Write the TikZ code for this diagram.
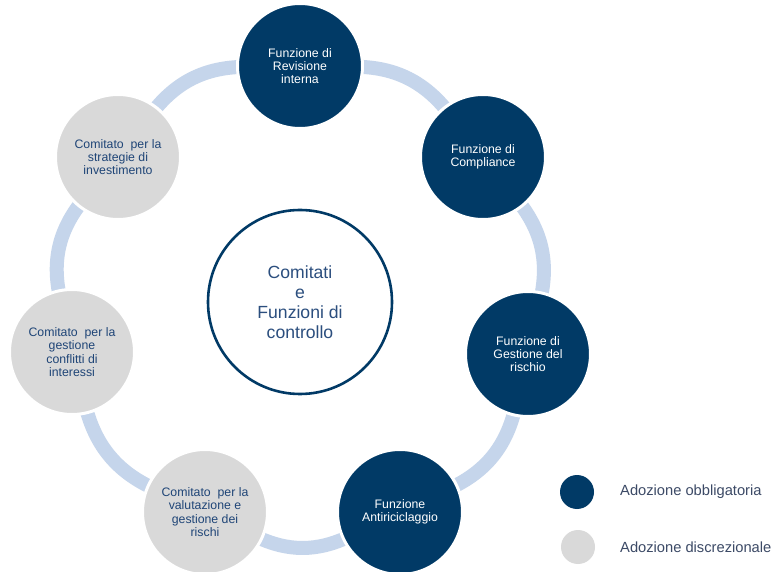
\documentclass[tikz,border=0pt]{standalone}
\usepackage{fontspec}
\setmainfont{Liberation Sans}
\pgfdeclarelayer{background}
\pgfsetlayers{background,main}
\definecolor{dblue}{HTML}{013A66}
\definecolor{lgray}{HTML}{D9D9D9}
\definecolor{ringc}{HTML}{C5D5EB}
\definecolor{gtext}{HTML}{1F4577}
\definecolor{ctext}{HTML}{2B4E7E}
\definecolor{legtext}{HTML}{3C4A66}
\begin{document}
\begin{tikzpicture}[x=1pt,y=1pt,
  fn/.style={circle, fill=dblue, draw=white, line width=3pt, minimum size=125pt,
    inner sep=0pt, text=white, align=center, font=\fontsize{12.3}{13.3}\selectfont},
  comnode/.style={fn, fill=lgray, text=gtext},
  hub/.style={circle, fill=white, draw=dblue, line width=2.6pt, minimum size=184pt,
    inner sep=0pt, text=ctext, align=center, font=\fontsize{17.6}{20}\selectfont},
  ringarc/.style={draw=ringc, line width=14pt, bend left=25.7, looseness=0.9,
    shorten <=-8pt, shorten >=-8pt},
  legdot/.style={circle, minimum size=34pt, inner sep=0pt},
  legtxt/.style={anchor=west, text=legtext, inner sep=0pt, font=\fontsize{14.7}{16}\selectfont}]
\useasboundingbox (0,0) rectangle (772,-572);
\node[hub] (hub) at (300,-302) {Comitati\\e\\Funzioni di\\controllo};
\node[fn] (rev)   at (300,-66)  {Funzione di\\Revisione\\interna};
\node[fn] (comp)  at (483,-157) {Funzione di\\Compliance};
\node[fn] (gest)  at (528,-354) {Funzione di\\Gestione del\\rischio};
\node[fn] (anti)  at (400,-512) {Funzione\\Antiriciclaggio};
\node[comnode] (valu)  at (205,-512) {Comitato\ \ per la\\valutazione e\\gestione dei\\rischi};
\node[comnode] (conf)  at (72,-352)  {Comitato\ \ per la\\gestione\\conflitti di\\interessi};
\node[comnode] (strat) at (118,-157) {Comitato\ \ per la\\strategie di\\investimento};
\begin{pgfonlayer}{background}
\fill[white] (0,0) rectangle (772,-572);
\draw[ringarc] (rev) to (comp);
\draw[ringarc] (comp) to (gest);
\draw[ringarc] (gest) to (anti);
\draw[ringarc] (anti) to (valu);
\draw[ringarc] (valu) to (conf);
\draw[ringarc] (conf) to (strat);
\draw[ringarc] (strat) to (rev);
\end{pgfonlayer}
\node[legdot, fill=dblue] (ld1) at (577,-492) {};
\node[legdot, fill=lgray] (ld2) at (578,-547) {};
\node[legtxt] (lt1) at (620,-492) {Adozione obbligatoria};
\node[legtxt] (lt2) at (620,-547) {Adozione discrezionale};
\end{tikzpicture}
\end{document}
